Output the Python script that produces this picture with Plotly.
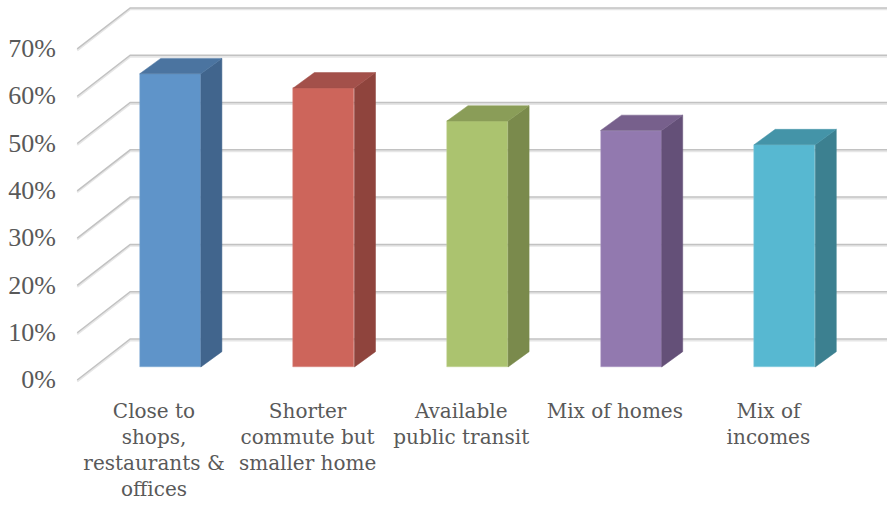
import plotly.graph_objects as go

categories = ["Close to<br>shops,<br>restaurants &<br>offices",
              "Shorter<br>commute but<br>smaller home",
              "Available<br>public transit",
              "Mix of homes",
              "Mix of<br>incomes"]
values = [62, 59, 52, 50, 47]
tick_values = [0, 10, 20, 30, 40, 50, 60, 70]
tick_labels = ["0%", "10%", "20%", "30%", "40%", "50%", "60%", "70%"]
front_colors = ["#5F94C9", "#CD655B", "#ABC36F", "#9279AF", "#57B8D1"]
side_colors = ["#41658D", "#8F443D", "#7A8A4C", "#645078", "#3C8090"]
top_colors = ["#4B74A0", "#A3504A", "#8A9D58", "#77608C", "#4494A8"]
edge_colors = ["#7FA8D4", "#DB8A82", "#C0D290", "#AC97C4", "#86CCDE"]

# oblique projection of the chart's depth, in axis units
WALL_DX, WALL_DV = 0.345, 8.67
BAR_FRONT_DX, BAR_FRONT_DV = 0.106, 2.75
BAR_DEPTH_DX, BAR_DEPTH_DV = 0.137, 3.25
BAR_W = 0.398
X_MIN, X_MAX = -0.612, 4.772
Y_MIN, Y_MAX = -2.11, 79.92
TEXT = "#595959"

fig = go.Figure()
xs = list(range(len(values)))

fig.add_trace(go.Bar(
    x=[i + BAR_FRONT_DX for i in xs], y=values, base=BAR_FRONT_DV, width=BAR_W,
    marker=dict(color=front_colors, line=dict(color=edge_colors, width=0.5)),
    showlegend=False, hoverinfo="skip"))

for i, v in zip(xs, values):
    l = i + BAR_FRONT_DX - BAR_W / 2
    r = i + BAR_FRONT_DX + BAR_W / 2
    b = BAR_FRONT_DV
    t = b + v
    fig.add_trace(go.Scatter(
        x=[r, r + BAR_DEPTH_DX, r + BAR_DEPTH_DX, r, r],
        y=[b, b + BAR_DEPTH_DV, t + BAR_DEPTH_DV, t, b],
        mode="lines", fill="toself", fillcolor=side_colors[i],
        line=dict(color=side_colors[i], width=0.5), showlegend=False, hoverinfo="skip"))
    fig.add_trace(go.Scatter(
        x=[l, r, r + BAR_DEPTH_DX, l + BAR_DEPTH_DX, l],
        y=[t, t, t + BAR_DEPTH_DV, t + BAR_DEPTH_DV, t],
        mode="lines", fill="toself", fillcolor=top_colors[i],
        line=dict(color=top_colors[i], width=0.5), showlegend=False, hoverinfo="skip"))

shapes = []
for v in tick_values:
    for off, col, w in [(-0.3, "#E6E6E6", 2), (0, "#C2C2C2", 1.5)]:
        x0, y0 = -0.5, v + off
        x1, y1 = -0.5 + WALL_DX, v + WALL_DV + off
        path = f"M {x0} {y0} L {x1} {y1} L {X_MAX} {y1}"
        shapes.append(dict(type="path", path=path, xref="x", yref="y", layer="below",
                           line=dict(color=col, width=w)))

fig.update_layout(
    width=887, height=505, autosize=False,
    margin=dict(l=60, r=0, t=2, b=115),
    paper_bgcolor="white", plot_bgcolor="white",
    shapes=shapes, bargap=0,
    xaxis=dict(range=[X_MIN, X_MAX], tickmode="array", tickvals=xs, ticktext=categories,
               automargin=False,
               showgrid=False, zeroline=False, showline=False, ticks="outside", ticklen=3,
               tickcolor="rgba(0,0,0,0)", tickangle=0,
               tickfont=dict(family="DejaVu Serif", size=20, color=TEXT)),
    yaxis=dict(range=[Y_MIN, Y_MAX], tickmode="array", tickvals=tick_values, ticktext=tick_labels,
               automargin=False,
               showgrid=False, zeroline=False, showline=False, ticks="", ticklabelstandoff=3,
               ticklabelshift=-1,
               tickfont=dict(family="Liberation Serif", size=26, color=TEXT)),
)

fig.write_html("out.html", post_script="document.body.style.margin='0';",
               config={"displayModeBar": False})
